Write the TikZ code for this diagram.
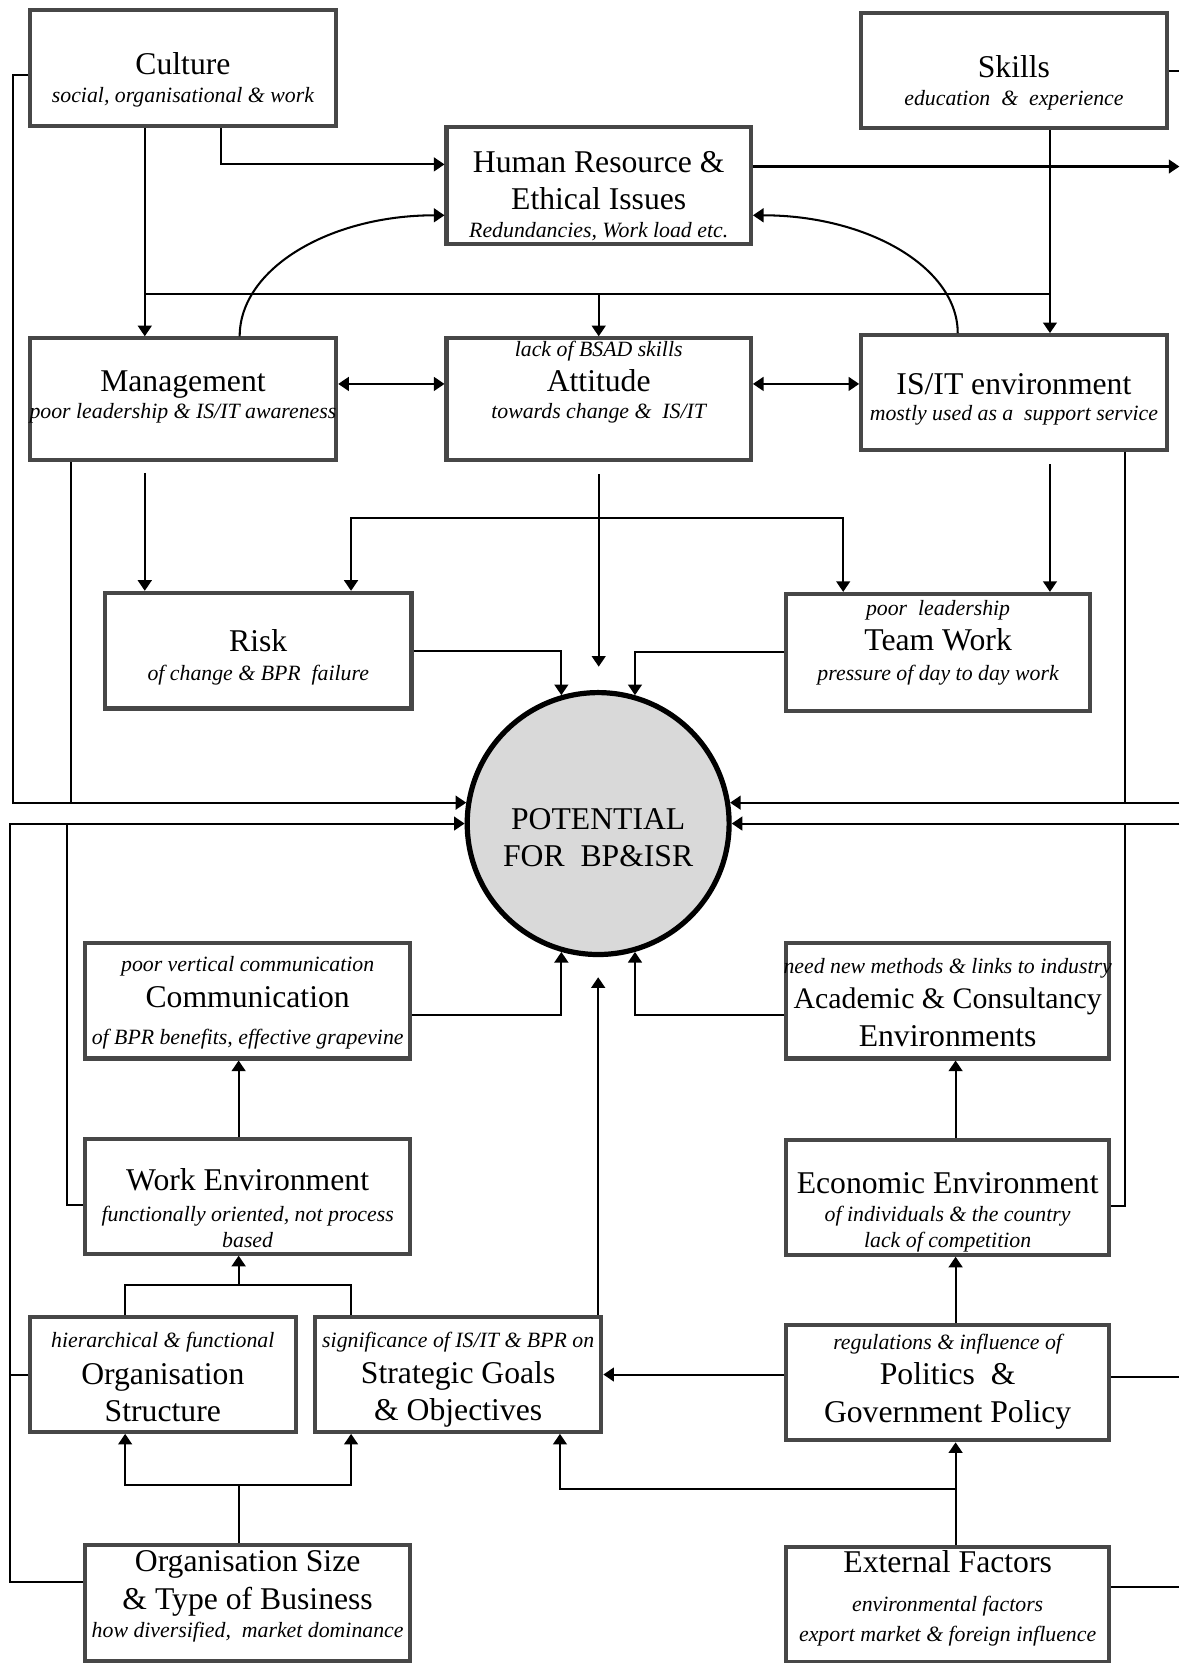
\documentclass[tikz,border=0pt]{standalone}
\usepackage{fontspec}
\setmainfont{Liberation Serif}
\usetikzlibrary{arrows.meta, calc}
\newcommand{\dsc}[1]{{\fontsize{11.7}{13}\selectfont\itshape #1}}
\tikzset{
  bx/.style={rectangle, draw=black!72, line width=2.2pt, fill=white, inner sep=0pt, minimum width=5.78cm, minimum height=2.2cm},
  tx/.style={align=center, inner sep=0pt, font=\fontsize{17}{20}\selectfont},
  potbox/.style={circle, draw, line width=2.8pt, fill=black!15, minimum size=4.94cm, inner sep=0pt},
  ln/.style={line width=1.1pt},
  arr/.style={-{Triangle[length=2mm, width=2.6mm]}, line width=1.1pt},
  barr/.style={{Triangle[length=2mm, width=2.6mm]}-{Triangle[length=2mm, width=2.6mm]}, line width=1.1pt},
}
\begin{document}
\begin{tikzpicture}[x=0.02cm, y=-0.02cm]
  \path[fill=white, use as bounding box] (0,0) rectangle (1112,1568);

  % Top row
  \node[bx, label={[tx, yshift=-0.22cm]center:{Culture\\[-5pt]\dsc{social, organisational \& work}}}] (cult) at (172.5,64) {};
  \node[bx, minimum width=5.76cm, minimum height=2.18cm, label={[tx, yshift=-0.23cm]center:{Skills\\[-5pt]\dsc{education~~\&~~experience}}}] (skil) at (956,66.5) {};
  \node[bx, minimum width=5.74cm, label={[tx, yshift=-0.2cm]center:{Human Resource \&\\Ethical Issues\\[-5pt]\dsc{Redundancies, Work load etc.}}}] (hr) at (564.5,175) {};

  % Second row
  \node[bx, minimum height=2.3cm, label={[tx, yshift=0.05cm]center:{Management\\[-5.5pt]\dsc{poor leadership \& IS/IT awareness}}}] (mgmt) at (172.5,376.5) {};
  \node[bx, minimum width=5.74cm, minimum height=2.3cm, label={[tx, yshift=0.32cm]center:{\dsc{lack of BSAD skills}\\[-1pt]Attitude\\[-5.5pt]\dsc{towards change \&~~IS/IT}}}] (att) at (564.5,376.5) {};
  \node[bx, minimum width=5.76cm, minimum height=2.16cm, label={[tx, yshift=-0.13cm]center:{IS/IT environment\\[-6pt]\dsc{mostly used as a~~support service}}}] (isit) at (956,370) {};

  % Risk and team work
  \node[bx, minimum height=2.18cm, label={[tx, yshift=-0.13cm]center:{Risk\\[-4.5pt]\dsc{of change \& BPR~~failure}}}] (risk) at (243.5,613.5) {};
  \node[bx, minimum width=5.74cm, label={[tx, yshift=0.18cm]center:{\dsc{poor~~leadership}\\[-1pt]Team Work\\[-4pt]\dsc{pressure of day to day work}}}] (team) at (884.5,615) {};

  % Centre
  \node[potbox, label={[tx, yshift=-0.27cm]center:{POTENTIAL\\FOR~~BP\&ISR}}] (pot) at (564,776.5) {};

  % Lower half
  \node[bx, minimum width=6.14cm, minimum height=2.18cm, label={[tx, yshift=-0.04cm]center:{\dsc{poor vertical communication}\\[-1pt]Communication\\\dsc{of BPR benefits, effective grapevine}}}] (comm) at (233.5,943.5) {};
  \node[bx, minimum width=6.1cm, minimum height=2.18cm, label={[tx, yshift=-0.03cm]center:{\dsc{need new methods \& links to industry}\\[-1pt]{\fontsize{16}{20}\selectfont Academic \& Consultancy}\\Environments}}] (acad) at (893.5,943.5) {};
  \node[bx, minimum width=6.14cm, minimum height=2.16cm, label={[tx, yshift=-0.22cm]center:{Work Environment\\[-3.6pt]\dsc{functionally oriented, not process}\\[-6pt]\dsc{based}}}] (work) at (233.5,1128) {};
  \node[bx, minimum width=6.1cm, minimum height=2.16cm, label={[tx, yshift=-0.29cm]center:{Economic Environment\\[-5pt]\dsc{of individuals \& the country}\\[-6pt]\dsc{lack of competition}}}] (econ) at (893.5,1129) {};
  \node[bx, minimum width=5.02cm, minimum height=2.16cm, label={[tx, yshift=-0.05cm]center:{\dsc{hierarchical \& functional}\\[-0.5pt]Organisation\\[0pt]Structure}}] (orgs) at (153.5,1296) {};
  \node[bx, minimum width=5.4cm, minimum height=2.16cm, label={[tx, yshift=-0.1cm]center:{\dsc{significance of IS/IT \& BPR on}\\[-0.5pt]Strategic Goals\\[0pt]\& Objectives}}] (strat) at (432,1296) {};
  \node[bx, minimum width=6.1cm, minimum height=2.18cm, label={[tx, yshift=0.02cm]center:{\dsc{regulations \& influence of}\\[-1pt]Politics~~\&\\Government Policy}}] (pol) at (893.5,1303.5) {};
  \node[bx, minimum width=6.14cm, minimum height=2.18cm, label={[tx, yshift=0.12cm]center:{Organisation Size\\[0pt]\& Type of Business\\[-4.6pt]\dsc{how diversified,~~market dominance}}}] (size) at (233.5,1511.5) {};
  \node[bx, minimum width=6.1cm, minimum height=2.18cm, label={[tx, yshift=0.12cm]center:{External Factors\\[1.2pt]\dsc{environmental factors}\\[-4pt]\dsc{export market \& foreign influence}}}] (ext) at (893.5,1513) {};

  % Helper rows and columns
  \coordinate (rowa) at (0,277);
  \coordinate (rowb) at (0,488);
  \coordinate (rowc) at (0,1212);
  \coordinate (rowd) at (0,1400);
  \coordinate (rowe) at (0,1404);
  \coordinate (xla) at (12,0);
  \coordinate (xlb) at (9.5,0);
  \coordinate (xlc) at (63,0);
  \coordinate (xr) at (1112,0);
  \coordinate (xrb) at (1061,0);
  \coordinate (pottop) at ([yshift=0.44cm]pot.north);

  % Arrows, top
  \draw[arr] ([xshift=-0.72cm]cult.south) -- ([xshift=-0.72cm]mgmt.north);
  \draw[arr] ([xshift=0.71cm]cult.south) |- ([yshift=0.4cm]hr.west);
  \draw[arr] ([xshift=0.68cm]skil.south) -- ([xshift=0.68cm]isit.north);
  \draw[ln] ([xshift=-0.72cm]cult.south |- rowa) -- ([xshift=0.68cm]skil.south |- rowa);
  \draw[arr] (att.north |- rowa) -- (att.north);
  \draw[arr] ([xshift=1.07cm]mgmt.north) .. controls +(0,-64) and +(-108,0) .. ([yshift=-0.56cm]hr.west);
  \draw[arr] ([xshift=-1.06cm]isit.north) .. controls +(0,-62) and +(108,0) .. ([yshift=-0.56cm]hr.east);
  \draw[barr] ([yshift=0.29cm]mgmt.east) -- ([yshift=0.29cm]att.west);
  \draw[barr] ([yshift=0.29cm]att.east) coordinate (t) -- (t -| isit.west);

  % Arrows, middle
  \draw[arr] ([xshift=-0.72cm, yshift=-0.2cm]mgmt.south) coordinate (t) -- (t |- risk.north);
  \draw[arr] ([yshift=-0.22cm]att.south) -- (att.south |- pottop);
  \draw[arr] (att.south |- rowb) -| ([xshift=1.75cm]risk.north);
  \draw[arr] (att.south |- rowb) -| ([xshift=-1.79cm]team.north);
  \draw[arr] ([xshift=0.68cm, yshift=-0.24cm]isit.south) coordinate (t) -- (t |- team.north);
  \draw[arr] (risk.east) -| (pot.106);
  \draw[arr] (team.west) -| (pot.74);

  % Left side
  \draw[arr] ([yshift=-0.14cm]cult.west) -| (xla |- pot.171) -- (pot.171);
  \draw[ln] ([xshift=-2.11cm]mgmt.south) coordinate (t) -- (t |- pot.171);
  \draw[arr] ([yshift=0.39cm]size.west) -| (xlb |- pot.west) -- (pot.west);
  \draw[ln] (orgs.west) -- (orgs.west -| xlb);
  \draw[ln] (xlc |- pot.west) |- ([yshift=-0.16cm]work.west);

  % Right side
  \draw[ln] (skil.east) -- (skil.east -| xr);
  \draw[arr] ([yshift=0.36cm]hr.east) coordinate (t) -- (t -| xr);
  \draw[arr] (xr |- pot.9) -- (pot.9);
  \draw[ln] (isit.south -| xrb) -- (xrb |- pot.9);
  \draw[arr] (xr |- pot.east) -- (pot.east);
  \draw[ln] (xrb |- pot.east) |- ([yshift=-0.16cm]econ.east);
  \draw[ln] ([yshift=0.11cm]pol.east) coordinate (t) -- (t -| xr);
  \draw[ln] ([yshift=0.34cm]ext.east) coordinate (t) -- (t -| xr);

  % Arrows, bottom
  \draw[arr] ([yshift=-0.27cm]comm.east) -| (pot.254);
  \draw[arr] ([yshift=-0.27cm]acad.west) -| (pot.286);
  \draw[arr] (strat.north -| pot.south) -- ([yshift=-0.38cm]pot.south);
  \draw[arr] ([xshift=-0.17cm]work.north) -- ([xshift=-0.17cm]comm.south);
  \draw[ln] ([xshift=-0.71cm]orgs.north) coordinate (t) -- (t |- rowc) -| ([xshift=-2.02cm]strat.north);
  \draw[arr] ([xshift=-0.17cm]work.south |- rowc) -- ([xshift=-0.17cm]work.south);
  \draw[ln] ([xshift=-0.17cm]size.north) -- ([xshift=-0.17cm]size.north |- rowd);
  \draw[arr] ([xshift=-0.17cm]size.north |- rowd) -| ([xshift=-0.71cm]orgs.south);
  \draw[arr] ([xshift=-0.17cm]size.north |- rowd) -| ([xshift=-2.02cm]strat.south);
  \draw[arr] ([xshift=0.15cm]econ.north) -- ([xshift=0.15cm]acad.south);
  \draw[arr] ([xshift=0.15cm]pol.north) -- ([xshift=0.15cm]econ.south);
  \draw[arr] ([xshift=0.15cm]ext.north) -- ([xshift=0.15cm]pol.south);
  \draw[arr] ([xshift=0.15cm]ext.north |- rowe) -| ([xshift=1.92cm]strat.south);
  \draw[arr] (pol.west |- strat.east) -- (strat.east);
\end{tikzpicture}
\end{document}
